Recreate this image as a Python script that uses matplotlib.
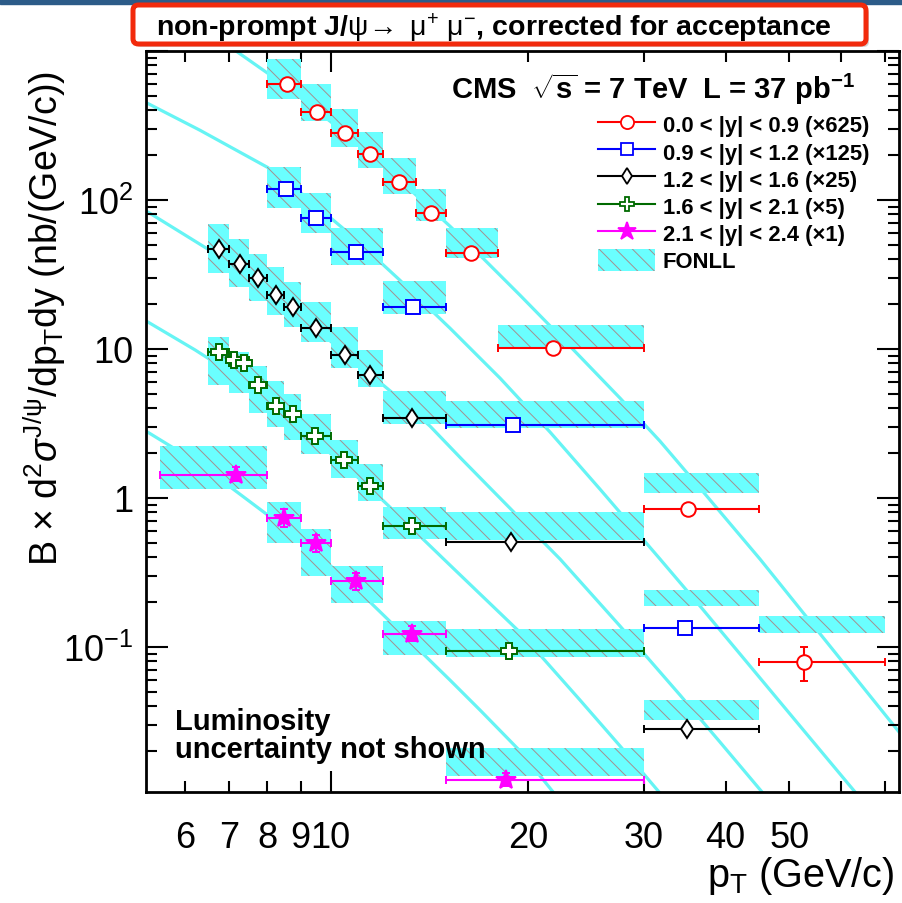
import numpy as np
import matplotlib
matplotlib.use("Agg")
import matplotlib.pyplot as plt
from matplotlib.lines import Line2D
from matplotlib.patches import Patch, FancyBboxPatch, Rectangle
from matplotlib.ticker import FixedLocator, FixedFormatter, LogLocator, NullFormatter

plt.rcParams['font.family'] = ['Liberation Sans', 'DejaVu Sans']
plt.rcParams['mathtext.fontset'] = 'custom'
plt.rcParams['mathtext.rm'] = 'Liberation Sans'
plt.rcParams['mathtext.it'] = 'Liberation Sans:italic'
plt.rcParams['mathtext.bf'] = 'Liberation Sans:bold'
plt.rcParams['hatch.linewidth'] = 0.7

# ---- data: 0.0 < |y| < 0.9 (x625)
red_x = [8.59, 9.52, 10.5, 11.48, 12.72, 14.2, 16.35, 21.8, 35.0, 52.7]
red_lo = [8, 9, 10, 11, 12, 13.5, 15, 18, 30, 45]
red_hi = [9, 10, 11, 12, 13.5, 15, 18, 30, 45, 70]
red_y = [597, 392, 283, 202, 131, 82.3, 43.9, 10.1, 0.84, 0.079]
red_err = [15, 10, 7, 5, 3, 2, 1.2, 0.3, 0.04, 0.0205]
red_flo = [473, 339, 227, 163, 110, 72.3, 41, 10.0, 1.08, 0.124]
red_fhi = [889, 597, 410, 288, 190, 119, 64.5, 14.5, 1.47, 0.160]
red_cx = [6.78, 7.22, 8.02, 8.98, 10.70, 12.75, 15.20, 16.89, 19.44, 23.17,
          27.61, 31.77, 36.56, 45.12, 57.69, 73.5]
red_cy = [1175, 979, 708, 489, 264, 135.5, 66.6, 42.5, 22.9, 10.4,
          4.67, 2.40, 1.162, 0.388, 0.101, 0.0268]

# ---- 0.9 < |y| < 1.2 (x125)
blue_x = [8.54, 9.5, 10.93, 13.33, 18.94, 34.7]
blue_lo = [8, 9, 10, 12, 15, 30]
blue_hi = [9, 10, 12, 15, 30, 45]
blue_y = [118.5, 75.7, 44.8, 19.05, 3.07, 0.134]
blue_err = [3, 2, 1.2, 0.5, 0.1, 0.008]
blue_flo = [88.4, 60.1, 36.6, 17.1, 2.93, 0.187]
blue_fhi = [166, 111, 64.6, 28.4, 4.46, 0.240]
blue_cx = [5.23, 6.32, 8.02, 8.98, 10.70, 12.75, 15.20, 18.12, 21.60, 25.73,
           31.77, 36.56, 43.58, 51.93, 63.0]
blue_cy = [450.6, 293.7, 165.0, 112.6, 58.9, 28.9, 13.77, 6.36, 2.76, 1.144,
           0.388, 0.1876, 0.0742, 0.02936, 0.01059]

# ---- 1.2 < |y| < 1.6 (x25)
black_x = [6.76, 7.27, 7.75, 8.25, 8.75, 9.5, 10.5, 11.48, 13.3, 18.85, 34.9]
black_lo = [6.5, 7, 7.5, 8, 8.5, 9, 10, 11, 12, 15, 30]
black_hi = [7, 7.5, 8, 8.5, 9, 10, 11, 12, 15, 30, 45]
black_y = [46.5, 37.4, 29.7, 22.9, 19.05, 13.9, 9.07, 6.7, 3.44, 0.502, 0.028]
black_err = [1.2, 0.9, 0.7, 0.55, 0.45, 0.33, 0.22, 0.17, 0.09, 0.015, 0.0015]
black_flo = [32.4, 26.0, 21.1, 17.0, 14.0, 11.1, 7.5, 5.56, 3.15, 0.52, 0.0324]
black_fhi = [68.7, 54.5, 43.4, 35.2, 28.3, 20.5, 14.0, 9.8, 5.2, 0.80, 0.044]
black_cx = [5.23, 6.50, 7.53, 8.98, 10.70, 12.75, 14.17, 15.84, 18.12, 22.37,
            27.61, 34.08, 39.21, 45.45]
black_cy = [84.4, 46.7, 29.8, 16.58, 8.80, 4.60, 3.03, 1.818, 0.995, 0.388,
            0.1377, 0.0474, 0.02293, 0.01059]

# ---- 1.6 < |y| < 2.1 (x5)
green_x = [6.76, 7.12, 7.37, 7.76, 8.25, 8.75, 9.47, 10.48, 11.48, 13.28, 18.7]
green_lo = [6.5, 7, 7, 7.5, 8, 8.5, 9, 10, 11, 12, 15]
green_hi = [7, 7.5, 7.5, 8, 8.5, 9, 10, 11, 12, 15, 30]
green_y = [9.6, 8.4, 7.98, 5.74, 4.14, 3.63, 2.62, 1.79, 1.21, 0.643, 0.093]
green_err = [0.25, 0.2, 0.2, 0.14, 0.1, 0.09, 0.06, 0.04, 0.03, 0.015, 0.003]
green_blo = [6.5, 7, 7.5, 8, 8.5, 9, 10, 11, 12, 15]
green_bhi = [7, 7.5, 8, 8.5, 9, 10, 11, 12, 15, 30]
green_flo = [5.76, 5.04, 3.73, 3.0, 2.46, 1.97, 1.36, 0.95, 0.53, 0.0858]
green_fhi = [12.1, 9.49, 7.7, 6.1, 4.98, 3.65, 2.45, 1.69, 0.87, 0.131]
green_cx = [5.23, 6.21, 6.50, 7.53, 8.98, 10.70, 12.03, 15.20, 19.44, 23.99,
            27.61, 31.66]
green_cy = [15.41, 9.85, 8.66, 5.53, 2.98, 1.534, 0.955, 0.3533, 0.1249,
            0.04388, 0.02157, 0.01059]

# ---- 2.1 < |y| < 2.4 (x1)
mag_x = [7.17, 8.49, 9.5, 10.93, 13.3, 18.5]
mag_lo = [5.5, 8, 9, 10, 12, 15]
mag_hi = [8, 9, 10, 12, 15, 30]
mag_y = [1.43, 0.738, 0.494, 0.277, 0.121, 0.0128]
mag_elo = [0.13, 0.10, 0.064, 0.038, 0.011, 0.0012]
mag_ehi = [0.18, 0.11, 0.066, 0.038, 0.016, 0.0015]
mag_flo = [1.15, 0.50, 0.30, 0.197, 0.088, 0.0136]
mag_fhi = [2.22, 0.94, 0.62, 0.35, 0.148, 0.0208]
mag_cx = [5.24, 5.69, 6.32, 6.97, 8.02, 8.98, 9.97, 11.36, 12.75, 15.20,
          16.89, 19.44, 21.83]
mag_cy = [2.79, 2.234, 1.684, 1.217, 0.7655, 0.520, 0.3533, 0.2089, 0.1274,
          0.05976, 0.0376, 0.01995, 0.01059]

labels = ['0.0 < |y| < 0.9 (\u00d7625)', '0.9 < |y| < 1.2 (\u00d7125)',
          '1.2 < |y| < 1.6 (\u00d725)', '1.6 < |y| < 2.1 (\u00d75)',
          '2.1 < |y| < 2.4 (\u00d71)', 'FONLL']

FILL = '#6affff'
HATCH = '#a39090'
CURVE = '#66f4f4'

series = [
    dict(x=red_x, lo=red_lo, hi=red_hi, y=red_y, elo=red_err, ehi=red_err,
         blo=red_lo, bhi=red_hi, flo=red_flo, fhi=red_fhi, cx=red_cx, cy=red_cy,
         color='#ff0000', marker='o', ms=10.5, mfc='white'),
    dict(x=blue_x, lo=blue_lo, hi=blue_hi, y=blue_y, elo=blue_err, ehi=blue_err,
         blo=blue_lo, bhi=blue_hi, flo=blue_flo, fhi=blue_fhi, cx=blue_cx, cy=blue_cy,
         color='#0000ff', marker='s', ms=9.5, mfc='white'),
    dict(x=black_x, lo=black_lo, hi=black_hi, y=black_y, elo=black_err, ehi=black_err,
         blo=black_lo, bhi=black_hi, flo=black_flo, fhi=black_fhi, cx=black_cx, cy=black_cy,
         color='#000000', marker='d', ms=9.5, mfc='white'),
    dict(x=green_x, lo=green_lo, hi=green_hi, y=green_y, elo=green_err, ehi=green_err,
         blo=green_blo, bhi=green_bhi, flo=green_flo, fhi=green_fhi, cx=green_cx, cy=green_cy,
         color='#006a00', marker='P', ms=11, mfc='white'),
    dict(x=mag_x, lo=mag_lo, hi=mag_hi, y=mag_y, elo=mag_elo, ehi=mag_ehi,
         blo=mag_lo, bhi=mag_hi, flo=mag_flo, fhi=mag_fhi, cx=mag_cx, cy=mag_cy,
         color='#ff00ff', marker='*', ms=15, mfc='#ff00ff'),
]

fig = plt.figure(figsize=(9.02, 9.04), dpi=100)
ax = fig.add_axes([0.1619, 0.1228, 0.8348, 0.8197])
ax.set_xscale('log')
ax.set_yscale('log')

for s in series:
    ax.plot(s['cx'], s['cy'], color=CURVE, lw=2.3, zorder=1)

for s in series:
    blo = np.array(s['blo'])
    bhi = np.array(s['bhi'])
    flo = np.array(s['flo'])
    fhi = np.array(s['fhi'])
    ax.bar(blo, fhi - flo, width=bhi - blo, bottom=flo, align='edge',
           color=FILL, edgecolor=HATCH, linewidth=0, hatch='\\\\', zorder=2)

for s in series:
    x = np.array(s['x'])
    ax.errorbar(x, s['y'], xerr=[x - np.array(s['lo']), np.array(s['hi']) - x],
                yerr=[s['elo'], s['ehi']], fmt=s['marker'], color=s['color'],
                ms=s['ms'], mfc=s['mfc'], mec=s['color'], mew=1.4,
                elinewidth=1.5, capsize=3, capthick=1.5, zorder=4)

ax.set_xlim(5.23, 73.5)
ax.set_ylim(0.0106, 1000)

ax.xaxis.set_major_locator(FixedLocator([10]))
ax.xaxis.set_major_formatter(FixedFormatter(['10']))
ax.xaxis.set_minor_locator(FixedLocator([6, 7, 8, 9, 20, 30, 40, 50, 60, 70]))
ax.xaxis.set_minor_formatter(FixedFormatter(['6', '7', '8', '9', '20', '30', '40', '50', '', '']))
ax.yaxis.set_major_locator(FixedLocator([0.01, 0.1, 1, 10, 100, 1000]))
ax.yaxis.set_major_formatter(FixedFormatter(['', r'$10^{-1}$', '1', '10', r'$10^{2}$', '']))
ax.yaxis.set_minor_locator(LogLocator(base=10, subs=np.arange(2, 10)))
ax.yaxis.set_minor_formatter(NullFormatter())

ax.tick_params(axis='both', which='both', direction='in', top=True, right=True, width=1.5)
ax.tick_params(axis='x', which='major', length=15)
ax.tick_params(axis='x', which='minor', length=8)
ax.tick_params(axis='y', which='major', length=16)
ax.tick_params(axis='y', which='minor', length=8)
ax.tick_params(axis='x', which='both', labelsize=26, pad=20)
ax.tick_params(axis='y', which='both', labelsize=26, pad=9)
for sp in ax.spines.values():
    sp.set_linewidth(2)

fig.text(0.050, 0.648, r'B $\times$ d$^{2}\sigma^{\mathrm{J/\psi}}$/dp$_{\mathrm{T}}$dy (nb/(GeV/c))',
         rotation=90, ha='center', va='center', fontsize=27)
fig.text(0.992, 0.019, r'p$_{\mathrm{T}}$ (GeV/c)', ha='right', va='baseline', fontsize=28.5)

ax.text(0.4046, 0.9366, r'CMS  $\mathbf{\sqrt{s}}$ = 7 TeV  L = 37 pb$^{\mathbf{-1}}$',
        transform=ax.transAxes, fontsize=21, weight='bold', ha='left', va='baseline')
ax.text(0.0385, 0.085, 'Luminosity', transform=ax.transAxes, fontsize=21,
        weight='bold', ha='left', va='baseline')
ax.text(0.0385, 0.047, 'uncertainty not shown', transform=ax.transAxes, fontsize=21,
        weight='bold', ha='left', va='baseline')

handles = [Line2D([], [], color=s['color'], marker=s['marker'], ms=s['ms'] * 0.9,
                  mfc=s['mfc'], mec=s['color'], mew=1.3, lw=1.5) for s in series]
handles.append(Patch(facecolor=FILL, edgecolor=HATCH, hatch='\\\\', linewidth=0))
ax.legend(handles, labels, loc='upper left', bbox_to_anchor=(0.6003, 0.9166),
          frameon=False, borderpad=0, borderaxespad=0, handlelength=2.6,
          handleheight=1.2, handletextpad=0.35, labelspacing=0.16,
          prop=dict(weight='bold', size=15.8))

# slide decorations: top stripe and red title box
fig.patches.append(Rectangle((0, 1 - 5 / 904), 1, 5 / 904, transform=fig.transFigure,
                             color='#2c5b88', zorder=0))
fig.patches.append(FancyBboxPatch((136 / 902, 1 - 48 / 904), 733 / 902, 39 / 904,
                                  boxstyle='round,pad=0,rounding_size=0.006',
                                  transform=fig.transFigure, fc='#bbbbbb', ec='none',
                                  alpha=0.6, zorder=1))
fig.patches.append(FancyBboxPatch((133 / 902, 1 - 45 / 904), 733 / 902, 39 / 904,
                                  boxstyle='round,pad=0,rounding_size=0.006',
                                  transform=fig.transFigure, fc='white', ec='#f22a0c',
                                  lw=3.6, zorder=2))
fig.text(0.548, 0.969,
         r'non-prompt J/$\mathrm{\psi}\!\rightarrow$ $\mathrm{\mu^{+}}$ $\mathrm{\mu^{-}}$, corrected for acceptance',
         ha='center', va='center', fontsize=20.5, weight='bold', zorder=3)

fig.savefig('out.png', dpi=100)
